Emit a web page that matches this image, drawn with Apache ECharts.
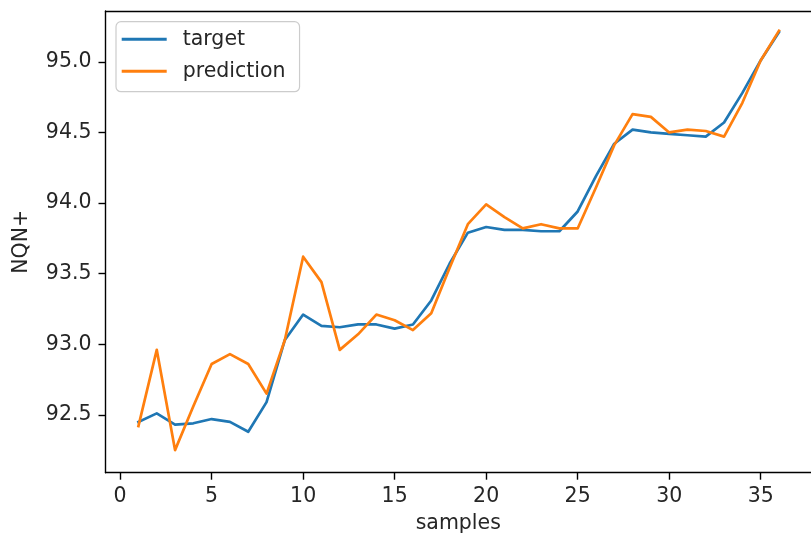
<!DOCTYPE html>
<html>
<head>
<meta charset="utf-8">
<title>NQN+ target vs prediction</title>
<script src="https://cdn.jsdelivr.net/npm/echarts@6/dist/echarts.min.js"></script>
<style>
  html, body { margin: 0; padding: 0; background: #ffffff; }
  #chart { width: 811px; height: 539px; }
</style>
</head>
<body>
<div id="chart"></div>
<script>
// Sample index along the x axis
const samples = [1, 2, 3, 4, 5, 6, 7, 8, 9, 10, 11, 12, 13, 14, 15, 16, 17, 18,
                 19, 20, 21, 22, 23, 24, 25, 26, 27, 28, 29, 30, 31, 32, 33, 34, 35, 36];

// Measured NQN+ values
const target = [92.45, 92.51, 92.43, 92.44, 92.47, 92.45, 92.38, 92.59, 93.03, 93.21,
                93.13, 93.12, 93.14, 93.14, 93.11, 93.14, 93.31, 93.57, 93.79, 93.83,
                93.81, 93.81, 93.80, 93.80, 93.94, 94.19, 94.42, 94.52, 94.50, 94.49,
                94.48, 94.47, 94.57, 94.78, 95.01, 95.21];

// Model output for the same samples
const prediction = [92.42, 92.96, 92.25, 92.56, 92.86, 92.93, 92.86, 92.65, 93.03, 93.62,
                    93.44, 92.96, 93.07, 93.21, 93.17, 93.10, 93.22, 93.54, 93.85, 93.99,
                    93.90, 93.82, 93.85, 93.82, 93.82, 94.11, 94.41, 94.63, 94.61, 94.50,
                    94.52, 94.51, 94.47, 94.71, 95.01, 95.22];

// Tick positions
const xTicks = [0, 5, 10, 15, 20, 25, 30, 35];
const yTicks = [92.5, 93.0, 93.5, 94.0, 94.5, 95.0];

const FONT = 'DejaVu Sans';
const FS = 20.5;
const TEXT = '#262626';
const BLUE = '#1f77b4';
const ORANGE = '#ff7f0e';

const pairs = (ys) => samples.map((x, i) => [x, ys[i]]);

const chart = echarts.init(document.getElementById('chart'), null, { renderer: 'canvas' });

const spine = { show: true, onZero: false, lineStyle: { color: '#000000', width: 1.4 } };

chart.setOption({
  animation: false,
  backgroundColor: '#ffffff',
  textStyle: { fontFamily: FONT },
  grid: { left: 105.5, right: -5, top: 11, bottom: 66.3, containLabel: false },
  legend: {
    orient: 'vertical',
    left: 116,
    top: 21.7,
    data: ['target', 'prediction'],
    icon: 'rect',
    itemWidth: 45,
    itemHeight: 3,
    itemGap: 10,
    padding: [6.5, 14, 9.5, 5.7],
    backgroundColor: 'rgba(255,255,255,0.8)',
    borderColor: '#cccccc',
    borderWidth: 1.2,
    borderRadius: 5,
    textStyle: {
      fontFamily: FONT,
      fontSize: FS,
      lineHeight: 22,
      color: TEXT,
      padding: [0, 0, 0, 11]
    }
  },
  xAxis: [
    {
      type: 'value',
      position: 'bottom',
      min: -0.8,
      max: 37.75,
      name: 'samples',
      nameLocation: 'middle',
      nameGap: 40,
      nameTextStyle: { fontFamily: FONT, fontSize: FS, color: TEXT },
      axisLine: spine,
      axisTick: { show: true, length: 7, customValues: xTicks,
                  lineStyle: { color: '#000000', width: 1.4 } },
      axisLabel: { show: true, margin: 13, customValues: xTicks,
                   fontFamily: FONT, fontSize: FS, color: TEXT },
      splitLine: { show: false }
    },
    {
      type: 'value',
      position: 'top',
      min: -0.8,
      max: 37.75,
      axisLine: spine,
      axisTick: { show: false },
      axisLabel: { show: false },
      splitLine: { show: false }
    }
  ],
  yAxis: {
    type: 'value',
    position: 'left',
    min: 92.09,
    max: 95.36,
    name: 'NQN+',
    nameLocation: 'middle',
    nameGap: 73,
    nameTextStyle: { fontFamily: FONT, fontSize: FS, color: TEXT },
    axisLine: spine,
    axisTick: { show: true, length: 7, customValues: yTicks,
                lineStyle: { color: '#000000', width: 1.4 } },
    axisLabel: { show: true, margin: 14, customValues: yTicks,
                 fontFamily: FONT, fontSize: FS, color: TEXT,
                 formatter: (v) => v.toFixed(1) },
    splitLine: { show: false }
  },
  series: [
    {
      name: 'target',
      type: 'line',
      xAxisIndex: 0,
      data: pairs(target),
      showSymbol: false,
      symbol: 'none',
      color: BLUE,
      lineStyle: { color: BLUE, width: 2.7, join: 'round', cap: 'square' },
      z: 2
    },
    {
      name: 'prediction',
      type: 'line',
      xAxisIndex: 0,
      data: pairs(prediction),
      showSymbol: false,
      symbol: 'none',
      color: ORANGE,
      lineStyle: { color: ORANGE, width: 2.7, join: 'round', cap: 'square' },
      z: 3
    }
  ]
});
</script>
</body>
</html>
